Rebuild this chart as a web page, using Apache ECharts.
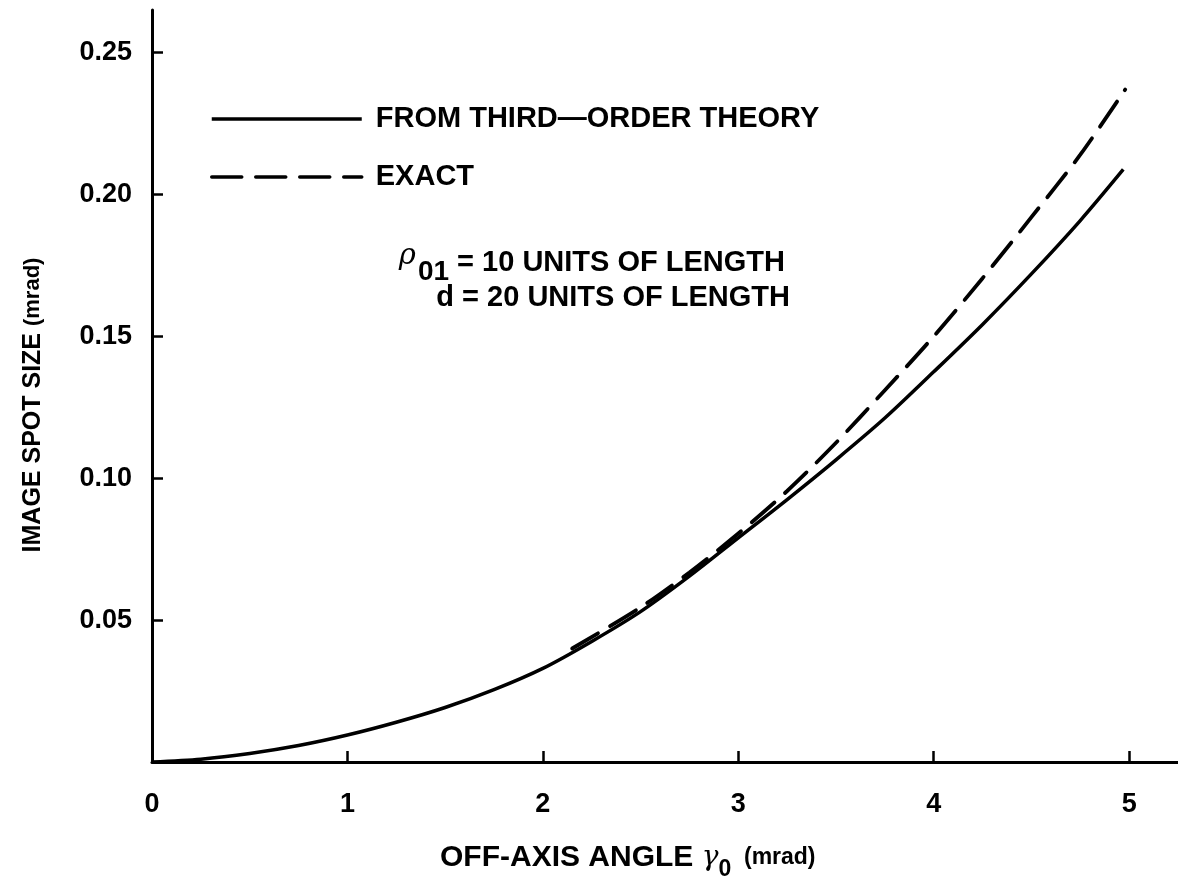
<!DOCTYPE html>
<html>
<head>
<meta charset="utf-8">
<script src="https://cdn.jsdelivr.net/npm/echarts@6/dist/echarts.min.js"></script>
<style>
  html, body { margin: 0; padding: 0; background: #fff; }
  #chart { width: 1178px; height: 883px; }
</style>
</head>
<body>
<div id="chart"></div>
<script>
// ---- data ----
const xTicks = [0, 1, 2, 3, 4, 5];
const yTicks = [0.05, 0.10, 0.15, 0.20, 0.25];

const thirdOrderX = [0, 0.25, 0.5, 0.75, 1.0, 1.25, 1.5, 1.75, 2.0, 2.25, 2.5, 2.75, 3.0, 3.25, 3.5, 3.75, 4.0, 4.25, 4.5, 4.75, 4.97];
const thirdOrderY = [0, 0.0010, 0.0030, 0.0058, 0.0095, 0.0140, 0.0192, 0.0255, 0.0330, 0.0425, 0.0530, 0.0655, 0.0790, 0.0925, 0.1065, 0.1212, 0.1375, 0.1542, 0.1720, 0.1908, 0.2088];

const exactX = [2.15, 2.5, 2.75, 3.0, 3.25, 3.5, 3.75, 4.0, 4.25, 4.5, 4.75, 4.98];
const exactY = [0.0400, 0.0545, 0.0668, 0.0805, 0.0955, 0.1125, 0.1310, 0.1500, 0.1705, 0.1920, 0.2140, 0.2370];

const seriesNames = ['FROM THIRD\u2014ORDER THEORY', 'EXACT'];

// ---- chart ----
const FONT = 'Liberation Sans, Arial, Helvetica, sans-serif';
const chart = echarts.init(document.getElementById('chart'), null, { renderer: 'canvas' });

const pairs = (xs, ys) => xs.map((x, i) => [x, ys[i]]);

chart.setOption({
  backgroundColor: '#ffffff',
  animation: false,
  grid: { left: 152, right: 0, top: 10, bottom: 121, containLabel: false },
  legend: {
    orient: 'vertical',
    left: 210,
    top: 104,
    padding: 0,
    itemWidth: 150,
    itemHeight: 30,
    itemGap: 28,
    data: seriesNames,
    itemStyle: { opacity: 0 },
    lineStyle: { width: 3.5, color: '#000' },
    textStyle: {
      fontFamily: FONT,
      fontWeight: 'bold',
      fontSize: 29,
      lineHeight: 30,
      color: '#000',
      padding: [0, 0, 0, 9]
    }
  },
  xAxis: {
    type: 'value',
    min: 0,
    max: 5.25,
    interval: 1,
    splitLine: { show: false },
    axisLine: { show: true, onZero: false, lineStyle: { color: '#000', width: 3 } },
    axisTick: { show: true, inside: true, length: 11, customValues: xTicks, lineStyle: { color: '#000', width: 2.5 } },
    axisLabel: {
      customValues: xTicks,
      margin: 29,
      color: '#000',
      fontFamily: FONT,
      fontWeight: 'bold',
      fontSize: 27,
      formatter: v => (Number.isInteger(v) ? String(v) : '')
    }
  },
  yAxis: {
    type: 'value',
    min: 0,
    max: 0.265,
    interval: 0.05,
    splitLine: { show: false },
    axisLine: { show: true, onZero: false, lineStyle: { color: '#000', width: 3 } },
    axisTick: { show: true, inside: true, length: 11, customValues: yTicks, lineStyle: { color: '#000', width: 2.5 } },
    axisLabel: {
      customValues: yTicks,
      margin: 20,
      color: '#000',
      fontFamily: FONT,
      fontWeight: 'bold',
      fontSize: 27,
      formatter: v => (v === 0 ? '' : v.toFixed(2))
    }
  },
  series: [
    {
      name: seriesNames[0],
      type: 'line',
      data: pairs(thirdOrderX, thirdOrderY),
      smooth: 0.3,
      symbol: 'none',
      color: '#000',
      lineStyle: { color: '#000', width: 3.5, type: 'solid' },
      z: 3
    },
    {
      name: seriesNames[1],
      type: 'line',
      data: pairs(exactX, exactY),
      smooth: 0.3,
      symbol: 'none',
      color: '#000',
      lineStyle: { color: '#000', width: 3.8, type: [30, 14], cap: 'round' },
      z: 3
    }
  ],
  graphic: [
    {
      type: 'text',
      right: 1178 - 785,
      top: 240,
      style: {
        text: '{rho|\u03C1}{sub|01}{main| = 10 UNITS OF LENGTH}',
        fill: '#000',
        rich: {
          rho: { fontFamily: 'DejaVu Serif, serif', fontStyle: 'italic', fontSize: 29, lineHeight: 46, verticalAlign: 'top', padding: [2, 2, 0, 0] },
          sub: { fontFamily: FONT, fontWeight: 'bold', fontSize: 28, lineHeight: 46, verticalAlign: 'bottom' },
          main: { fontFamily: FONT, fontWeight: 'bold', fontSize: 29, lineHeight: 46, verticalAlign: 'middle' }
        }
      }
    },
    {
      type: 'text',
      right: 1178 - 790,
      top: 283,
      style: {
        text: 'd = 20 UNITS OF LENGTH',
        fill: '#000',
        fontFamily: FONT,
        fontWeight: 'bold',
        fontSize: 29
      }
    },
    {
      type: 'text',
      left: 440,
      top: 843,
      style: {
        text: '{t|OFF-AXIS ANGLE }{g|\u03B3}{s|0}{m|  (mrad)}',
        fill: '#000',
        rich: {
          t: { fontFamily: FONT, fontWeight: 'bold', fontSize: 30, lineHeight: 46, verticalAlign: 'middle' },
          g: { fontFamily: 'DejaVu Serif, serif', fontStyle: 'italic', fontSize: 28, lineHeight: 46, verticalAlign: 'middle' },
          s: { fontFamily: FONT, fontWeight: 'bold', fontSize: 23, lineHeight: 46, verticalAlign: 'bottom' },
          m: { fontFamily: FONT, fontWeight: 'bold', fontSize: 23, lineHeight: 46, verticalAlign: 'middle' }
        }
      }
    },
    {
      type: 'text',
      x: 33,
      y: 405,
      rotation: Math.PI / 2,
      style: {
        text: '{t|IMAGE SPOT SIZE }{m|(mrad)}',
        fill: '#000',
        align: 'center',
        verticalAlign: 'middle',
        rich: {
          t: { fontFamily: FONT, fontWeight: 'bold', fontSize: 25, verticalAlign: 'middle' },
          m: { fontFamily: FONT, fontWeight: 'bold', fontSize: 22, verticalAlign: 'middle' }
        }
      }
    }
  ]
});
</script>
</body>
</html>
